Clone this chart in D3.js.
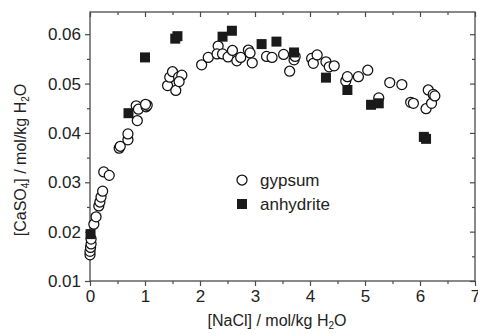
<!DOCTYPE html>
<html>
<head>
<meta charset="utf-8">
<script src="https://cdn.jsdelivr.net/npm/d3@7"></script>
<style>
  body { margin: 0; background: #fff; }
  svg { display: block; font-family: "Liberation Sans", Arial, sans-serif; }
</style>
</head>
<body>
<svg id="chart" width="478" height="334"></svg>
<script>
// gypsum solubility
const gypsumNaCl = [0.00, 0.00, 0.01, 0.02, 0.02, 0.07, 0.11, 0.16, 0.18, 0.20, 0.23, 0.25, 0.35, 0.53, 0.55, 0.69, 0.69,
  0.84, 0.88, 0.86, 1.02, 1.04, 1.01,
  1.41, 1.45, 1.50, 1.56, 1.61, 1.67, 1.62,
  2.03, 2.15, 2.33, 2.31, 2.41, 2.51, 2.59, 2.67, 2.74, 2.88, 2.91, 2.95, 3.21, 3.31,
  3.52, 3.63, 3.71, 3.73, 4.03, 4.06, 4.13, 4.29, 4.35, 4.44, 4.65, 4.68, 4.88, 5.05, 5.25,
  5.45, 5.67, 5.83, 5.88, 6.11, 6.15, 6.21, 6.24, 6.27];
const gypsumCaSO4 = [0.0153, 0.0160, 0.0168, 0.0175, 0.0185, 0.0215, 0.0230, 0.0252, 0.0260, 0.0270, 0.0282, 0.0321, 0.0314, 0.0369, 0.0373, 0.0386, 0.0398,
  0.0455, 0.0448, 0.0425, 0.0453, 0.0456, 0.0458,
  0.0496, 0.0513, 0.0524, 0.0486, 0.0513, 0.0517, 0.0504,
  0.0538, 0.0553, 0.0576, 0.0560, 0.0560, 0.0554, 0.0567, 0.0546, 0.0553, 0.0568, 0.0562, 0.0542, 0.0555, 0.0553,
  0.0559, 0.0525, 0.0548, 0.0555, 0.0551, 0.0541, 0.0558, 0.0544, 0.0534, 0.0536, 0.0505, 0.0514, 0.0514, 0.0527, 0.0471,
  0.0502, 0.0498, 0.0462, 0.0460, 0.0449, 0.0487, 0.0460, 0.0478, 0.0475];

// anhydrite solubility
const anhydriteNaCl = [0.01, 0.70, 1.00, 1.55, 1.59, 2.41, 2.58, 3.12, 3.39, 3.71, 4.29, 4.68, 5.11, 5.25, 6.07, 6.11];
const anhydriteCaSO4 = [0.0195, 0.0440, 0.0553, 0.0591, 0.0596, 0.0595, 0.0607, 0.0580, 0.0585, 0.0563, 0.0512, 0.0487, 0.0457, 0.0460, 0.0392, 0.0388];

const xTicks = [0, 1, 2, 3, 4, 5, 6, 7];
const xMinor = [0.5, 1.5, 2.5, 3.5, 4.5, 5.5, 6.5];
const yTicks = [0.01, 0.02, 0.03, 0.04, 0.05, 0.06];
const yMinor = [0.015, 0.025, 0.035, 0.045, 0.055];

const svg = d3.select('#chart');
const mLeft = 90, mRight = 475, mTop = 12, mBottom = 281;

const x = d3.scaleLinear().domain([0, 7]).range([mLeft, mRight]);
const y = d3.scaleLinear().domain([0.01, 0.0645]).range([mBottom, mTop]);

const axisColor = '#4a4a4a';
const textColor = '#222';

function styleAxis(g) {
  g.select('.domain').remove();
  g.selectAll('line').attr('stroke', axisColor).attr('stroke-width', 1.2);
  g.selectAll('text').attr('fill', textColor).style('font-size', '17px');
}

// frame
svg.append('rect')
  .attr('x', mLeft).attr('y', mTop)
  .attr('width', mRight - mLeft).attr('height', mBottom - mTop)
  .attr('fill', 'none').attr('stroke', axisColor).attr('stroke-width', 1.3);

// bottom axis (ticks outward) + minor
svg.append('g').attr('transform', `translate(0,${mBottom})`)
  .call(d3.axisBottom(x).tickValues(xTicks).tickSize(5).tickPadding(4).tickFormat(d3.format('d')))
  .call(styleAxis);
svg.append('g').attr('transform', `translate(0,${mBottom})`)
  .call(d3.axisBottom(x).tickValues(xMinor).tickSize(3).tickFormat(''))
  .call(styleAxis);

// top axis (ticks inward)
svg.append('g').attr('transform', `translate(0,${mTop})`)
  .call(d3.axisBottom(x).tickValues(xTicks).tickSize(5).tickFormat(''))
  .call(styleAxis);
svg.append('g').attr('transform', `translate(0,${mTop})`)
  .call(d3.axisBottom(x).tickValues(xMinor).tickSize(3).tickFormat(''))
  .call(styleAxis);

// left axis (ticks outward)
svg.append('g').attr('transform', `translate(${mLeft},0)`)
  .call(d3.axisLeft(y).tickValues(yTicks).tickSize(5).tickPadding(4).tickFormat(d3.format('.2f')))
  .call(styleAxis);
svg.append('g').attr('transform', `translate(${mLeft},0)`)
  .call(d3.axisLeft(y).tickValues(yMinor).tickSize(3).tickFormat(''))
  .call(styleAxis);

// right axis (ticks inward)
svg.append('g').attr('transform', `translate(${mRight},0)`)
  .call(d3.axisLeft(y).tickValues(yTicks).tickSize(5).tickFormat(''))
  .call(styleAxis);
svg.append('g').attr('transform', `translate(${mRight},0)`)
  .call(d3.axisLeft(y).tickValues(yMinor).tickSize(3).tickFormat(''))
  .call(styleAxis);

// gypsum circles
svg.append('g').selectAll('circle')
  .data(d3.zip(gypsumNaCl, gypsumCaSO4))
  .enter()
  .append('circle')
  .attr('cx', d => x(d[0]))
  .attr('cy', d => y(d[1]))
  .attr('r', 5)
  .attr('fill', 'white')
  .attr('stroke', '#111')
  .attr('stroke-width', 1.25);

// anhydrite squares
const sq = 10;
svg.append('g').selectAll('rect')
  .data(d3.zip(anhydriteNaCl, anhydriteCaSO4))
  .enter()
  .append('rect')
  .attr('x', d => x(d[0]) - sq / 2)
  .attr('y', d => y(d[1]) - sq / 2)
  .attr('width', sq)
  .attr('height', sq)
  .attr('fill', '#1a1a1a');

// legend
const legend = svg.append('g').attr('transform', 'translate(242,180)');
legend.append('circle').attr('r', 5).attr('fill', 'white').attr('stroke', '#111').attr('stroke-width', 1.25);
legend.append('rect').attr('x', -sq / 2).attr('y', 24 - sq / 2).attr('width', sq).attr('height', sq).attr('fill', '#1a1a1a');
legend.append('text').attr('x', 18).attr('y', 6).attr('fill', textColor).style('font-size', '17px').text('gypsum');
legend.append('text').attr('x', 18).attr('y', 30).attr('fill', textColor).style('font-size', '17px').text('anhydrite');

// axis titles
const xt = svg.append('text')
  .attr('x', 277).attr('y', 326)
  .attr('text-anchor', 'middle').attr('fill', textColor).style('font-size', '16px');
xt.append('tspan').text('[NaCl] / mol/kg H');
xt.append('tspan').attr('baseline-shift', '-25%').style('font-size', '10px').text('2');
xt.append('tspan').text('O');

const yt = svg.append('text')
  .attr('transform', 'translate(26,160) rotate(-90)')
  .attr('text-anchor', 'middle').attr('fill', textColor).style('font-size', '16px');
yt.append('tspan').text('[CaSO');
yt.append('tspan').attr('baseline-shift', '-25%').style('font-size', '10px').text('4');
yt.append('tspan').text('] / mol/kg H');
yt.append('tspan').attr('baseline-shift', '-25%').style('font-size', '10px').text('2');
yt.append('tspan').text('O');
</script>
</body>
</html>
